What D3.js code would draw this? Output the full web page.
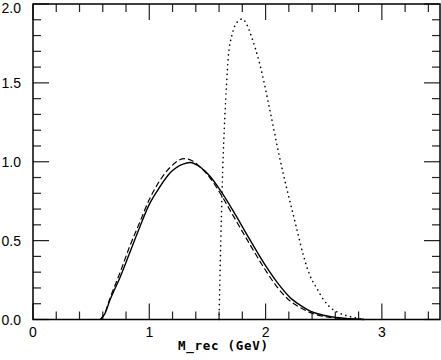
<!DOCTYPE html>
<html>
<head>
<meta charset="utf-8">
<script src="https://cdn.jsdelivr.net/npm/d3@7"></script>
<style>
  body { margin: 0; background: #fff; }
  svg { display: block; }
</style>
</head>
<body>
<svg id="chart" width="441" height="360"></svg>
<script>
// curves: [M_rec, value]
const solid = [[0.58,0],[0.62,0.04],[0.66,0.12],[0.75,0.27],[0.83,0.42],[0.92,0.59],[1.0,0.73],
  [1.09,0.84],[1.18,0.93],[1.29,0.985],[1.35,0.995],[1.44,0.965],[1.52,0.91],[1.61,0.82],[1.72,0.69],
  [1.87,0.50],[2.01,0.33],[2.10,0.235],[2.21,0.14],[2.30,0.09],[2.38,0.055],[2.44,0.038],[2.58,0.016],
  [2.73,0.005],[2.85,0]]
const dashed = [[0.58,0],[0.62,0.045],[0.66,0.13],[0.75,0.30],[0.83,0.46],[0.92,0.62],[1.0,0.76],
  [1.09,0.88],[1.18,0.965],[1.30,1.02],[1.36,1.01],[1.44,0.965],[1.52,0.90],[1.61,0.80],[1.72,0.66],
  [1.87,0.47],[2.01,0.30],[2.10,0.205],[2.21,0.118],[2.30,0.075],[2.38,0.045],[2.44,0.03],[2.58,0.011],
  [2.73,0.003],[2.85,0]]
const dotted = [[1.60,0],[1.615,0.5],[1.636,1.05],[1.65,1.29],[1.665,1.50],[1.68,1.67],[1.71,1.80],
  [1.75,1.88],[1.80,1.905],[1.84,1.867],[1.88,1.79],[1.95,1.62],[2.04,1.317],[2.10,1.10],[2.15,0.93],
  [2.21,0.747],[2.267,0.578],[2.324,0.409],[2.38,0.282],[2.44,0.198],[2.50,0.124],[2.55,0.081],
  [2.64,0.039],[2.73,0.018],[2.85,0]]
const xTicks = [0, 1, 2, 3]
const yTicks = [0, 0.5, 1.0, 1.5, 2.0]
const xLabel = "M_rec (GeV)"

const margin = {left: 33, right: 1, top: 4, bottom: 40.5}
const W = 441, H = 360
const svg = d3.select("#chart")

const x = d3.scaleLinear().domain([0, 3.5]).range([margin.left, W - margin.right])
const y = d3.scaleLinear().domain([0, 2]).range([H - margin.bottom, margin.top])

const line = d3.line()
    .x((d) => x(d[0]))
    .y((d) => y(d[1]))
    .curve(d3.curveMonotoneX)

const ticks = svg.append("g").attr("stroke", "#222").attr("stroke-width", 1.2)
// x ticks, bottom and top, minor each 0.2
d3.range(0, 3.51, 0.2).forEach((v) => {
    const major = Math.abs(v - Math.round(v)) < 1e-6
    const len = major ? 16 : 8
    ticks.append("line").attr("x1", x(v)).attr("x2", x(v)).attr("y1", y(0)).attr("y2", y(0) - len)
    ticks.append("line").attr("x1", x(v)).attr("x2", x(v)).attr("y1", y(2)).attr("y2", y(2) + len)
})
// y ticks, left and right, minor each 0.1
d3.range(0, 2.01, 0.1).forEach((v) => {
    const major = Math.abs(v * 2 - Math.round(v * 2)) < 1e-6
    const len = major ? 16 : 8
    ticks.append("line").attr("y1", y(v)).attr("y2", y(v)).attr("x1", x(0)).attr("x2", x(0) + len)
    ticks.append("line").attr("y1", y(v)).attr("y2", y(v)).attr("x1", x(3.5)).attr("x2", x(3.5) - len)
})

svg.append("path").attr("d", line(solid))
    .attr("fill", "none").attr("stroke", "#000").attr("stroke-width", 1.4)
svg.append("path").attr("d", line(dashed))
    .attr("fill", "none").attr("stroke", "#000").attr("stroke-width", 1.2)
    .attr("stroke-dasharray", "6,3")
svg.append("path").attr("d", line(dotted))
    .attr("fill", "none").attr("stroke", "#000").attr("stroke-width", 1.6)
    .attr("stroke-linecap", "round").attr("stroke-dasharray", "0.1,4.8")

svg.append("rect")
    .attr("x", x(0)).attr("y", y(2))
    .attr("width", x(3.5) - x(0)).attr("height", y(0) - y(2))
    .attr("fill", "none").attr("stroke", "#000").attr("stroke-width", 1.5)

svg.selectAll(".xt")
    .data(xTicks)
    .join("text")
    .attr("x", (d) => x(d))
    .attr("y", y(0) + 17)
    .attr("text-anchor", "middle")
    .attr("font-family", "Liberation Sans, Arial, sans-serif")
    .attr("font-size", "14px")
    .text((d) => d)

svg.selectAll(".yt")
    .data(yTicks)
    .join("text")
    .attr("x", 21)
    .attr("y", (d) => Math.max(y(d) + 5, 13))
    .attr("text-anchor", "end")
    .attr("font-family", "Liberation Sans, Arial, sans-serif")
    .attr("font-size", "14px")
    .text((d) => d.toFixed(1))

svg.append("text")
    .attr("x", 178)
    .attr("y", 350)
    .attr("font-family", "DejaVu Sans Mono, monospace")
    .attr("font-size", "12.5px")
    .attr("font-weight", "bold")
    .attr("textLength", 90)
    .attr("lengthAdjust", "spacing")
    .text(xLabel)
</script>
</body>
</html>
